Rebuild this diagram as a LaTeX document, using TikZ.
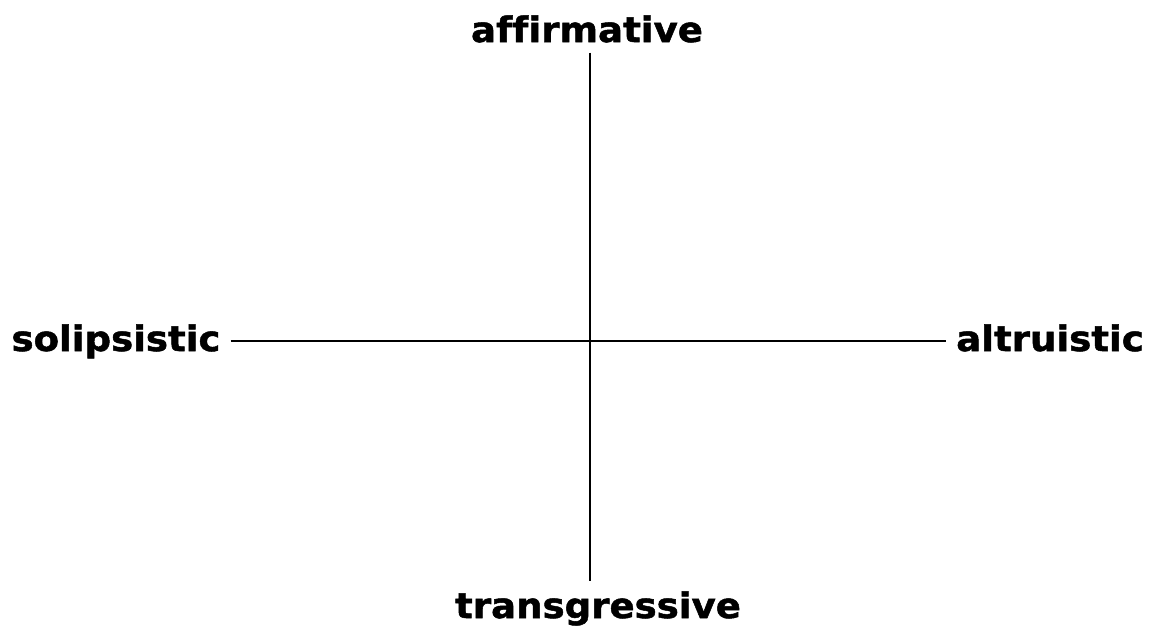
\documentclass[tikz,border=0pt]{standalone}
\usepackage{fontspec}
\usepackage{tikz}
\usetikzlibrary{calc}
\newfontfamily\axisfont[Ligatures=NoCommon, FakeBold=1.4, FakeStretch=1.06]{DejaVu Sans Bold}

\begin{document}
\begin{tikzpicture}[
  x=1pt, y=-1pt,
  pole/.style={font=\axisfont\fontsize{35}{40}\selectfont, text=black, inner sep=10pt, anchor=base},
  axis/.style={line width=2pt, black}
]
\useasboundingbox[fill=white] (0,0) rectangle (1153,630);

% Centre of the cross
\coordinate (origin) at (590,341);

% Poles
\node[pole] (affirm) at (587,42) {affirmative};
\node[pole] (transg) at (598,618) {transgressive};
\node[pole] (solip) at (116,351) {solipsistic};
\node[pole] (altru) at (1050,351) {altruistic};

% Axes
\draw[axis] (origin |- affirm.south) -- (origin |- transg.north);
\draw[axis] (origin -| solip.east) -- (origin -| altru.west);

\end{tikzpicture}
\end{document}
